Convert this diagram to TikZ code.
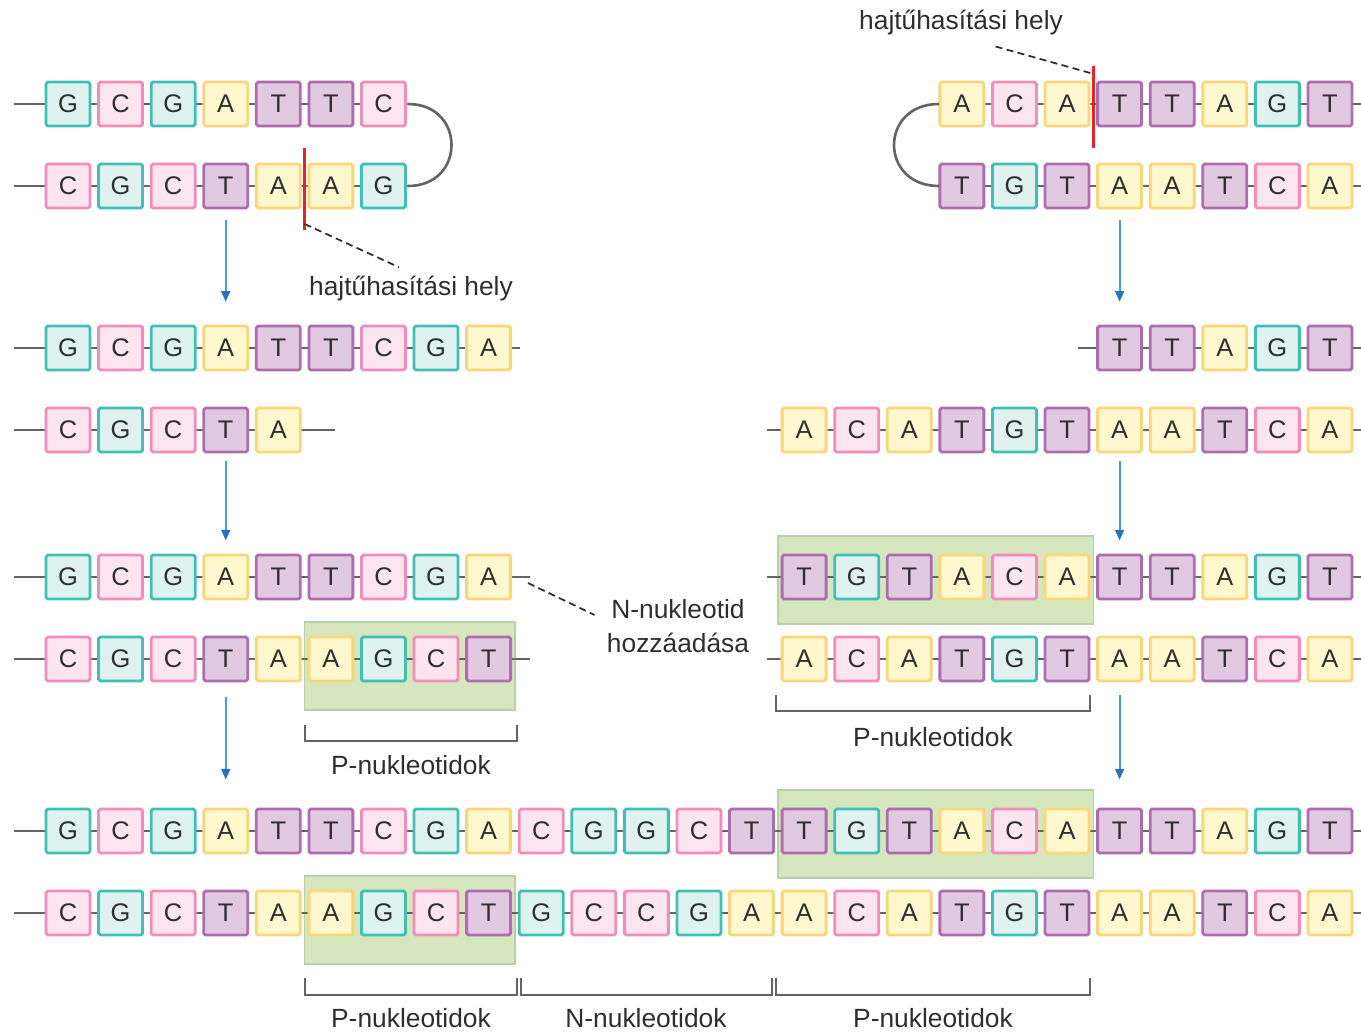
\documentclass[tikz,border=0pt]{standalone}
\usepackage{xcolor}
\usepackage{tikz}
\usepackage{fontspec}
\setmainfont{Liberation Sans}
\usetikzlibrary{calc,arrows.meta}
\definecolor{lineG}{HTML}{40BFB4}
\definecolor{fillG}{HTML}{E0F2EF}
\definecolor{lineC}{HTML}{F28DBA}
\definecolor{fillC}{HTML}{FDE5EF}
\definecolor{lineA}{HTML}{F9D67A}
\definecolor{fillA}{HTML}{FFF8CF}
\definecolor{lineT}{HTML}{AE6DAE}
\definecolor{fillT}{HTML}{E2C9E2}
\definecolor{pgreen}{HTML}{D6E7BF}
\definecolor{pgreenline}{HTML}{BDCCAA}
\definecolor{strandgray}{HTML}{646464}
\definecolor{txtgray}{HTML}{2E2E2E}
\definecolor{cutred}{HTML}{E8212B}
\definecolor{flowblue}{HTML}{4B9ADB}
\definecolor{tipblue}{HTML}{2474BD}
\pgfdeclarelayer{bg}
\pgfdeclarelayer{mid}
\pgfsetlayers{bg,mid,main}

% one strand: name, y, first index, bases, left end, right end
\newcommand{\dnarow}[6]{%
  \coordinate (#1-s) at (#5,#2);
  \coordinate (#1-e) at (#6,#2);
  \begin{pgfonlayer}{mid}
    \draw[strand] (#1-s) -- (#1-e);
  \end{pgfonlayer}
  \foreach \b [count=\k from #3] in {#4} {
    \node[base,fill=fill\b,draw=line\b] (#1-\k) at ({68+52.58*\k},#2) {\b};
  }%
}

\begin{document}
\begin{tikzpicture}[x=0.02cm,y=-0.02cm,
  base/.style={rectangle,minimum size=0.88cm,inner sep=0pt,line width=1.6pt,
    rounded corners=1pt,text=txtgray,font=\fontsize{14.5}{15}\selectfont},
  strand/.style={draw=strandgray,line width=1.5pt},
  cut/.style={draw=cutred,line width=1.8pt},
  leader/.style={draw=txtgray,line width=1pt,dash pattern=on 4pt off 2.5pt},
  flow/.style={draw=flowblue,line width=1.2pt,-{Triangle[length=6pt,width=5pt,color=tipblue]}},
  pbox/.style={fill=pgreen,draw=pgreenline,line width=0.8pt},
  brk/.style={draw=strandgray,line width=1.3pt},
  lbl/.style={text=txtgray,font=\fontsize{15}{19}\selectfont,align=center,inner sep=0pt}]
  \useasboundingbox (0,0) rectangle (1361,1032);

  % hairpins
  \dnarow{r1}{104}{0}{G,C,G,A,T,T,C}{14}{408}
  \dnarow{r2}{186}{0}{C,G,C,T,A,A,G}{14}{408}
  \draw[strand] (r1-e) .. controls +(58,0) and +(58,0) .. (r2-e);
  \dnarow{r1r}{104}{17}{A,C,A,T,T,A,G,T}{939}{1361}
  \dnarow{r2r}{186}{17}{T,G,T,A,A,T,C,A}{939}{1361}
  \draw[strand] (r1r-s) .. controls +(-60,0) and +(-60,0) .. (r2r-s);

  \coordinate (cutL) at ($(r2-4.east)!0.5!(r2-5.west)$);
  \draw[cut] ($(cutL)+(0,-38)$) -- ($(cutL)+(0,44)$);
  \node[lbl] (hairL) at (411,289) {hajtűhasítási hely};
  \draw[leader] ($(cutL)+(0,38)$) -- ($(hairL.north)+(-12,-9)$);

  \coordinate (cutR) at ($(r1r-19.east)!0.5!(r1r-20.west)$);
  \draw[cut] ($(cutR)+(0,-38)$) -- ($(cutR)+(0,44)$);
  \node[lbl] (hairR) at (961,23) {hajtűhasítási hely};
  \draw[leader] ($(cutR)+(-3,-31)$) -- ($(hairR.south)+(32,10)$);

  % opened
  \dnarow{r3}{348}{0}{G,C,G,A,T,T,C,G,A}{14}{520}
  \dnarow{r4}{430}{0}{C,G,C,T,A}{14}{335}
  \dnarow{r3r}{348}{20}{T,T,A,G,T}{1078}{1361}
  \dnarow{r4r}{430}{14}{A,C,A,T,G,T,A,A,T,C,A}{767}{1361}

  % filled in
  \dnarow{r5}{577}{0}{G,C,G,A,T,T,C,G,A}{14}{530}
  \dnarow{r6}{659}{0}{C,G,C,T,A,A,G,C,T}{14}{530}
  \dnarow{r5r}{577}{14}{T,G,T,A,C,A,T,T,A,G,T}{767}{1361}
  \dnarow{r6r}{659}{14}{A,C,A,T,G,T,A,A,T,C,A}{767}{1361}
  \begin{pgfonlayer}{bg}
    \draw[pbox] ($(r6-5)+(-26.3,-37)$) rectangle ($(r6-8)+(26.3,51)$);
    \draw[pbox] ($(r5r-14)+(-26.3,-41)$) rectangle ($(r5r-19)+(26.3,47)$);
  \end{pgfonlayer}

  \node[lbl] (nadd) at (678,626) {N-nukleotid\\hozzáadása};
  \draw[leader] ($(r5-e)+(-2,6)$) -- ($(nadd.west)+(-12,-11)$);

  \draw[brk] (305,725) -- (305,741) -- (517,741) -- (517,725);
  \node[lbl] (pL) at (411,765) {P-nukleotidok};
  \draw[brk] (776,695) -- (776,711) -- (1090,711) -- (1090,695);
  \node[lbl] (pR) at (933,737) {P-nukleotidok};

  % joined
  \dnarow{r7}{831}{0}{G,C,G,A,T,T,C,G,A,C,G,G,C,T,T,G,T,A,C,A,T,T,A,G,T}{14}{1361}
  \dnarow{r8}{913}{0}{C,G,C,T,A,A,G,C,T,G,C,C,G,A,A,C,A,T,G,T,A,A,T,C,A}{14}{1361}
  \begin{pgfonlayer}{bg}
    \draw[pbox] ($(r7-14)+(-26.3,-41)$) rectangle ($(r7-19)+(26.3,47)$);
    \draw[pbox] ($(r8-5)+(-26.3,-37)$) rectangle ($(r8-8)+(26.3,51)$);
  \end{pgfonlayer}

  \draw[brk] (305,978) -- (305,995) -- (517,995) -- (517,978);
  \draw[brk] (521,978) -- (521,995) -- (772,995) -- (772,978);
  \draw[brk] (776,978) -- (776,995) -- (1090,995) -- (1090,978);
  \node[lbl] (pB1) at (411,1018) {P-nukleotidok};
  \node[lbl] (nB) at (646,1018) {N-nukleotidok};
  \node[lbl] (pB2) at (933,1018) {P-nukleotidok};

  % steps
  \draw[flow,shorten <=6pt,shorten >=13pt] (r2-3.south) -- (r3-3.north);
  \draw[flow,shorten <=6pt,shorten >=13pt] (r2r-20.south) -- (r3r-20.north);
  \draw[flow,shorten <=4.5pt,shorten >=7.5pt] (r4-3.south) -- (r5-3.north);
  \draw[flow,shorten <=4.5pt,shorten >=7.5pt] (r4r-20.south) -- (r5r-20.north);
  \draw[flow,shorten <=8.5pt,shorten >=16pt] (r6-3.south) -- (r7-3.north);
  \draw[flow,shorten <=7pt,shorten >=16pt] (r6r-20.south) -- (r7-20.north);
\end{tikzpicture}
\end{document}
